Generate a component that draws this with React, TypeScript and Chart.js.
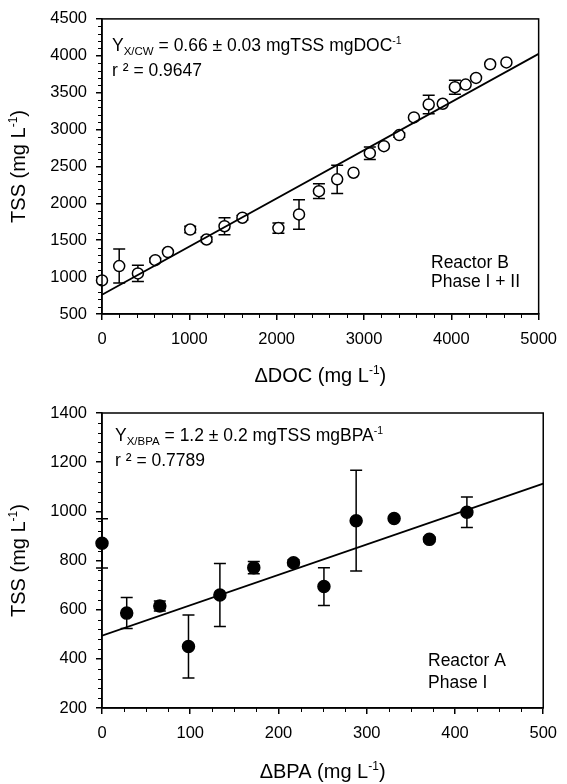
import React, { useEffect, useRef } from "react";
import { Chart, registerables } from "chart.js";
Chart.register(...registerables);

// ---- Reactor B (top) ----
const docX = [0, 197, 411, 610, 755, 1010, 1197, 1403, 1608, 2020, 2256, 2484, 2693, 2880, 3067, 3228, 3404, 3572, 3741, 3902, 4041, 4164, 4283, 4445, 4631];
const tssB = [955, 1150, 1050, 1230, 1340, 1645, 1510, 1690, 1805, 1665, 1850, 2165, 2325, 2415, 2680, 2775, 2925, 3165, 3340, 3350, 3575, 3610, 3700, 3885, 3910];
const errB = [0, 230, 110, 25, 0, 45, 35, 115, 30, 70, 200, 100, 190, 0, 85, 0, 30, 0, 125, 0, 95, 0, 0, 0, 0];
const fitBX = [0, 5000];
const fitBY = [761, 4026];

// ---- Reactor A (bottom) ----
const bpaX = [0, 28, 65.5, 98, 133.6, 172, 217, 251.5, 288, 331, 371, 413.5];
const tssA = [870, 586, 615, 450, 660, 771, 791, 694, 962, 971, 886, 996];
const errA = [100, 63, 20, 128, 128, 25, 12, 77, 205, 0, 10, 62];
const fitAX = [0, 500];
const fitAY = [494, 1113];

const FONT = "'Liberation Sans', Arial, sans-serif";

type Run = [string, number, number];

function drawRuns(ctx: CanvasRenderingContext2D, runs: Run[], x: number, y: number, align: "left" | "center" = "left") {
  let total = 0;
  for (const r of runs) {
    ctx.font = `${r[1]}px ${FONT}`;
    total += ctx.measureText(r[0]).width;
  }
  let cx = align === "center" ? x - total / 2 : x;
  ctx.textAlign = "left";
  ctx.textBaseline = "alphabetic";
  for (const r of runs) {
    ctx.font = `${r[1]}px ${FONT}`;
    ctx.fillText(r[0], cx, y + r[2]);
    cx += ctx.measureText(r[0]).width;
  }
}

interface Cfg {
  xs: number[]; ys: number[]; errs: number[]; fitX: number[]; fitY: number[];
  xMin: number; xMax: number; xStep: number; xMinor: number;
  yMin: number; yMax: number; yStep: number; yMinor: number;
  filled: boolean;
  eq: Run[]; r2: string;
  eqPos: [number, number]; r2Pos: [number, number];
  reactor: string[]; reactorPos: [number, number, number];
  xTitle: Run[];
  xTitleY: number;
  padTop: number;
  xAxisH: number;
}

function makePlugin(cfg: Cfg) {
  return {
    id: "custom",
    beforeDatasetsDraw(chart: any) {
      const ctx = chart.ctx as CanvasRenderingContext2D;
      const xs = chart.scales.x, ys = chart.scales.y;
      ctx.save();
      ctx.strokeStyle = "#000";
      ctx.lineWidth = 1.5;
      cfg.xs.forEach((xv, i) => {
        const e = cfg.errs[i];
        if (!e) return;
        const px = xs.getPixelForValue(xv);
        const p1 = ys.getPixelForValue(cfg.ys[i] + e);
        const p2 = ys.getPixelForValue(cfg.ys[i] - e);
        ctx.beginPath();
        ctx.moveTo(px, p1); ctx.lineTo(px, p2);
        ctx.moveTo(px - 6, p1); ctx.lineTo(px + 6, p1);
        ctx.moveTo(px - 6, p2); ctx.lineTo(px + 6, p2);
        ctx.stroke();
      });
      ctx.restore();
    },
    afterDraw(chart: any) {
      const ctx = chart.ctx as CanvasRenderingContext2D;
      const a = chart.chartArea;
      const xs = chart.scales.x, ys = chart.scales.y;
      ctx.save();
      ctx.strokeStyle = "#000";
      ctx.fillStyle = "#000";
      ctx.lineWidth = 1.5;
      ctx.strokeRect(a.left, a.top, a.right - a.left, a.bottom - a.top);
      // minor ticks
      ctx.lineWidth = 1;
      ctx.beginPath();
      for (let v = cfg.xMin; v <= cfg.xMax + 1e-9; v += cfg.xMinor) {
        if (Math.abs(v / cfg.xStep - Math.round(v / cfg.xStep)) < 1e-6) continue;
        const px = Math.round(xs.getPixelForValue(v)) + 0.5;
        ctx.moveTo(px, a.bottom); ctx.lineTo(px, a.bottom + 4);
      }
      for (let v = cfg.yMin; v <= cfg.yMax + 1e-9; v += cfg.yMinor) {
        if (Math.abs((v - cfg.yMin) / cfg.yStep - Math.round((v - cfg.yMin) / cfg.yStep)) < 1e-6) continue;
        const py = Math.round(ys.getPixelForValue(v)) + 0.5;
        ctx.moveTo(a.left, py); ctx.lineTo(a.left - 4, py);
      }
      ctx.stroke();
      // annotations
      drawRuns(ctx, cfg.eq, a.left + cfg.eqPos[0], a.top + cfg.eqPos[1]);
      drawRuns(ctx, [[cfg.r2, 17.5, 0]], a.left + cfg.r2Pos[0], a.top + cfg.r2Pos[1]);
      cfg.reactor.forEach((t, i) => {
        drawRuns(ctx, [[t, 17.5, 0]], cfg.reactorPos[0], a.bottom - cfg.reactorPos[1] + i * cfg.reactorPos[2]);
      });
      // axis titles
      const cx = (a.left + a.right) / 2;
      drawRuns(ctx, cfg.xTitle, cx, cfg.xTitleY, "center");
      ctx.save();
      ctx.translate(25, (a.top + a.bottom) / 2);
      ctx.rotate(-Math.PI / 2);
      drawRuns(ctx, [["TSS (mg L", 20, 0], ["-1", 12, -8], [")", 20, 0]], 0, 0, "center");
      ctx.restore();
      ctx.restore();
    },
  };
}

function Panel({ cfg }: { cfg: Cfg }) {
  const ref = useRef<HTMLCanvasElement>(null);
  useEffect(() => {
    const pts = cfg.xs.map((x, i) => ({ x, y: cfg.ys[i] }));
    const line = cfg.fitX.map((x, i) => ({ x, y: cfg.fitY[i] }));
    const chart = new Chart(ref.current!, {
      type: "scatter",
      data: {
        datasets: [
          {
            type: "line",
            data: line,
            borderColor: "#000",
            borderWidth: 1.8,
            pointRadius: 0,
            fill: false,
          } as any,
          {
            data: pts,
            pointRadius: cfg.filled ? 6 : 5.5,
            pointBackgroundColor: cfg.filled ? "#000" : "#fff",
            pointBorderColor: "#000",
            pointBorderWidth: 1.5,
            clip: false,
          } as any,
        ],
      },
      options: {
        responsive: false,
        animation: false,
        devicePixelRatio: 1,
        layout: { padding: { top: cfg.padTop, right: 20, left: 0, bottom: 0 } },
        plugins: { legend: { display: false }, tooltip: { enabled: false } },
        scales: {
          x: {
            type: "linear",
            min: cfg.xMin,
            max: cfg.xMax,
            ticks: { stepSize: cfg.xStep, color: "#000", font: { family: FONT, size: 16.5 }, padding: 10, maxRotation: 0, callback: (v: any) => String(v) },
            grid: { drawOnChartArea: false, tickLength: 6, color: "#000", lineWidth: 1.5 },
            border: { color: "#000", width: 1.5 },
            afterFit: (s: any) => { s.height = cfg.xAxisH; },
          },
          y: {
            type: "linear",
            min: cfg.yMin,
            max: cfg.yMax,
            ticks: { stepSize: cfg.yStep, color: "#000", font: { family: FONT, size: 16.5 }, padding: 9, callback: (v: any) => String(v) },
            grid: { drawOnChartArea: false, tickLength: 6, color: "#000", lineWidth: 1.5 },
            border: { color: "#000", width: 1.5 },
            afterFit: (s: any) => { s.width = 102; },
          },
        },
      },
      plugins: [makePlugin(cfg)],
    });
    return () => chart.destroy();
  }, [cfg]);
  return <canvas ref={ref} width={567} height={392} style={{ display: "block", width: 567, height: 392 }} />;
}

const topCfg: Cfg = {
  xs: docX, ys: tssB, errs: errB, fitX: fitBX, fitY: fitBY,
  xMin: 0, xMax: 5000, xStep: 1000, xMinor: 200,
  yMin: 500, yMax: 4500, yStep: 500, yMinor: 100,
  filled: false,
  eq: [["Y", 17.5, 0], ["X/CW", 11.5, 4], [" = 0.66 ± 0.03 mgTSS mgDOC", 17.5, 0], ["-1", 10.5, -7]],
  r2: "r ² = 0.9647",
  eqPos: [10, 32], r2Pos: [10, 57],
  reactor: ["Reactor B", "Phase I + II"], reactorPos: [431, 46, 19],
  xTitle: [["ΔDOC (mg L", 20, 0], ["-1", 12, -8], [")", 20, 0]],
  xTitleY: 382,
  padTop: 18,
  xAxisH: 78,
};

const botCfg: Cfg = {
  xs: bpaX, ys: tssA, errs: errA, fitX: fitAX, fitY: fitAY,
  xMin: 0, xMax: 500, xStep: 100, xMinor: 25,
  yMin: 200, yMax: 1400, yStep: 200, yMinor: 40,
  filled: true,
  eq: [["Y", 17.5, 0], ["X/BPA", 11.5, 4], [" = 1.2 ± 0.2 mgTSS mgBPA", 17.5, 0], ["-1", 10.5, -7]],
  r2: "r ² = 0.7789",
  eqPos: [13, 28], r2Pos: [13, 53],
  reactor: ["Reactor A", "Phase I"], reactorPos: [428, 42, 21.5],
  xTitle: [["ΔBPA (mg L", 20, 0], ["-1", 12, -8], [")", 20, 0]],
  xTitleY: 386,
  padTop: 21,
  xAxisH: 76,
};

export default function App() {
  return (
    <div style={{ position: "absolute", left: 0, top: 0, width: 567, height: 784, background: "#fff" }}>
      <Panel cfg={topCfg} />
      <Panel cfg={botCfg} />
    </div>
  );
}
